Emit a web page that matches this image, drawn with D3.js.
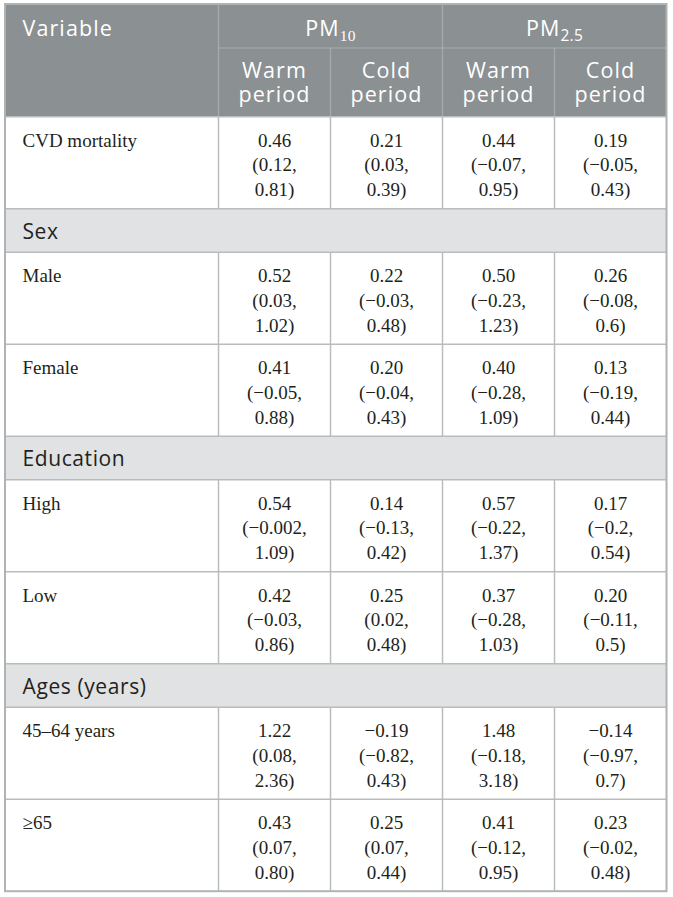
<!DOCTYPE html>
<html>
<head>
<meta charset="utf-8">
<script src="https://cdn.jsdelivr.net/npm/d3@7"></script>
<style>
  body { margin: 0; background: #fff; }
</style>
</head>
<body>
<svg id="tbl" width="673" height="897"></svg>
<script>
// table content
const pollutants = ["PM10", "PM2.5"];
const periods = ["Warm period", "Cold period", "Warm period", "Cold period"];
const rowLabels = ["CVD mortality", "Sex", "Male", "Female", "Education", "High", "Low",
                   "Ages (years)", "45–64 years", "≥65"];
const sectionRows = ["Sex", "Education", "Ages (years)"];

// one entry per data row: [estimate, lower, upper] as printed
const pm10Warm = [["0.46", "0.12", "0.81"], ["0.52", "0.03", "1.02"], ["0.41", "−0.05", "0.88"],
                  ["0.54", "−0.002", "1.09"], ["0.42", "−0.03", "0.86"], ["1.22", "0.08", "2.36"],
                  ["0.43", "0.07", "0.80"]];
const pm10Cold = [["0.21", "0.03", "0.39"], ["0.22", "−0.03", "0.48"], ["0.20", "−0.04", "0.43"],
                  ["0.14", "−0.13", "0.42"], ["0.25", "0.02", "0.48"], ["−0.19", "−0.82", "0.43"],
                  ["0.25", "0.07", "0.44"]];
const pm25Warm = [["0.44", "−0.07", "0.95"], ["0.50", "−0.23", "1.23"], ["0.40", "−0.28", "1.09"],
                  ["0.57", "−0.22", "1.37"], ["0.37", "−0.28", "1.03"], ["1.48", "−0.18", "3.18"],
                  ["0.41", "−0.12", "0.95"]];
const pm25Cold = [["0.19", "−0.05", "0.43"], ["0.26", "−0.08", "0.6"], ["0.13", "−0.19", "0.44"],
                  ["0.17", "−0.2", "0.54"], ["0.20", "−0.11", "0.5"], ["−0.14", "−0.97", "0.7"],
                  ["0.23", "−0.02", "0.48"]];

const valueCols = [pm10Warm, pm10Cold, pm25Warm, pm25Cold];

const svg = d3.select("#tbl");
const xLeft = 5, xRight = 666.5, varRight = 218.5;
const yTop = 4, head1 = 48, head2 = 116.7;
const dataH = 92, secH = 43.5;
const sans = "'Open Sans', sans-serif";
const serif = "'Liberation Serif', serif";
const lineCol = "#b9bcbc";

const x = d3.scaleBand().domain(d3.range(4)).range([varRight, xRight]);
const xp = d3.scaleBand().domain(pollutants).range([varRight, xRight]);

// row layout
let y0 = head2;
let dataIdx = 0;
const rows = rowLabels.map(label => {
    const isSec = sectionRows.includes(label);
    const r = {label, isSec, top: y0, h: isSec ? secH : dataH, idx: isSec ? -1 : dataIdx++};
    y0 += r.h;
    return r;
});
const yBottom = y0;

// header background
svg.append("rect").attr("x", xLeft).attr("y", yTop).attr("width", xRight - xLeft)
    .attr("height", head2 - yTop).attr("fill", "#8b9092");

// section background
svg.append("g").selectAll("rect").data(rows.filter(r => r.isSec)).join("rect")
    .attr("x", xLeft).attr("y", r => r.top).attr("width", xRight - xLeft).attr("height", r => r.h)
    .attr("fill", "#e0e2e3");

// header lines
const hl = svg.append("g").attr("stroke", "#a7abac").attr("stroke-width", 1.2);
hl.append("line").attr("x1", varRight).attr("x2", xRight).attr("y1", head1).attr("y2", head1);
hl.append("line").attr("x1", varRight).attr("x2", varRight).attr("y1", yTop).attr("y2", head2);
hl.append("line").attr("x1", xp("PM2.5")).attr("x2", xp("PM2.5")).attr("y1", yTop).attr("y2", head2);
hl.append("g").selectAll("line").data([1, 3]).join("line")
    .attr("x1", d => x(d)).attr("x2", d => x(d)).attr("y1", head1).attr("y2", head2);

// body lines
const bl = svg.append("g").attr("stroke", lineCol).attr("stroke-width", 1.5);
bl.append("g").selectAll("line").data(rows).join("line")
    .attr("x1", xLeft).attr("x2", xRight).attr("y1", r => r.top).attr("y2", r => r.top);
rows.filter(r => !r.isSec).forEach(r => {
    bl.append("g").selectAll("line").data([0, 1, 2, 3]).join("line")
        .attr("x1", d => x(d)).attr("x2", d => x(d)).attr("y1", r.top).attr("y2", r.top + r.h);
});

// outer border
svg.append("rect").attr("x", xLeft).attr("y", yTop).attr("width", xRight - xLeft)
    .attr("height", yBottom - yTop).attr("fill", "none").attr("stroke", "#b0b3b4").attr("stroke-width", 2);

// header text
const ht = svg.append("g").attr("fill", "#fff").attr("font-family", sans).attr("font-size", 21.5)
    .attr("letter-spacing", 1.1);
ht.append("text").attr("x", 22.5).attr("y", 36).text("Variable");
pollutants.forEach(p => {
    const t = ht.append("text").attr("x", xp(p) + xp.bandwidth() / 2).attr("y", 36)
        .attr("text-anchor", "middle");
    t.append("tspan").text("PM");
    t.append("tspan").attr("dy", 5).attr("font-size", 15.5).attr("letter-spacing", 0.3)
        .attr("font-family", p === "PM10" ? serif : sans).text(p.slice(2));
});
periods.forEach((p, i) => {
    const cx = x(i) + x.bandwidth() / 2;
    ht.append("text").attr("y", 78).attr("text-anchor", "middle")
        .selectAll("tspan").data(p.split(" ")).join("tspan")
        .attr("x", cx).attr("dy", (d, j) => j ? 23.5 : 0).text(d => d);
});

// body text
const body = svg.append("g").attr("fill", "#231f20");
rows.forEach(r => {
    if (r.isSec) {
        body.append("text").attr("x", 22.5).attr("y", r.top + 30)
            .attr("font-family", sans).attr("font-size", 21).attr("letter-spacing", 0.6).text(r.label);
        return;
    }
    body.append("text").attr("x", 22.5).attr("y", r.top + 30)
        .attr("font-family", serif).attr("font-size", 19).text(r.label);
    valueCols.forEach((col, i) => {
        const [est, lo, hi] = col[r.idx];
        body.append("text").attr("y", r.top + 30)
            .attr("text-anchor", "middle")
            .attr("font-family", serif).attr("font-size", 19)
            .selectAll("tspan").data([est, `(${lo},`, `${hi})`]).join("tspan")
            .attr("x", x(i) + x.bandwidth() / 2)
            .attr("dy", (d, j) => j ? 24.7 : 0)
            .text(d => d);
    });
});
</script>
</body>
</html>
